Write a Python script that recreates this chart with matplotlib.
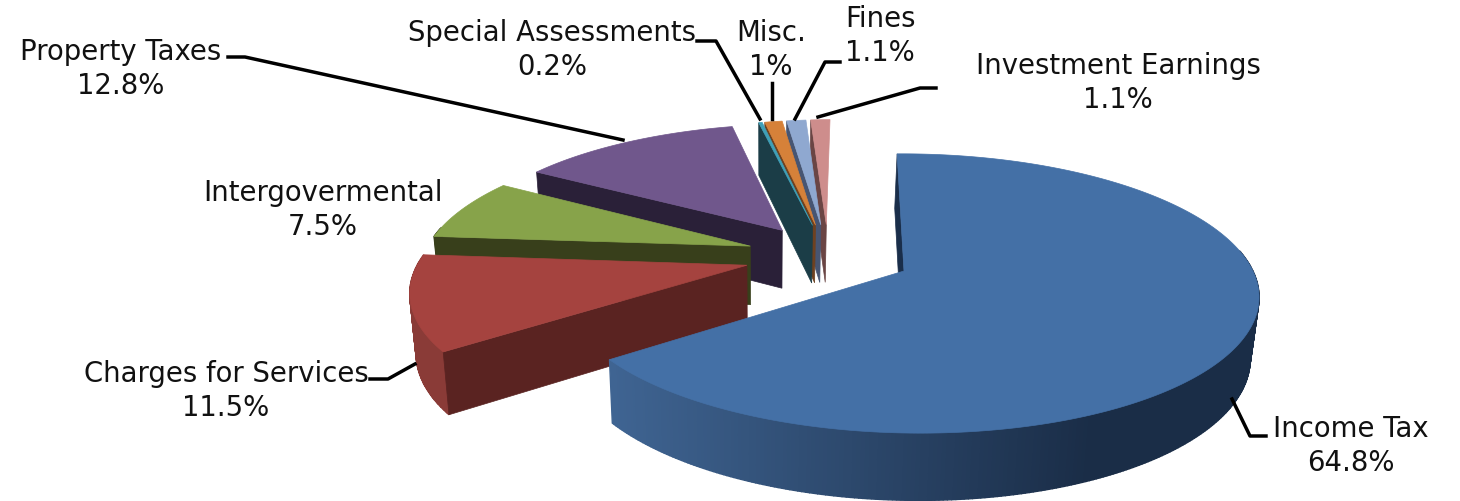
import numpy as np
import matplotlib
matplotlib.use('Agg')
import matplotlib.pyplot as plt

categories = ['Income Tax', 'Charges for Services', 'Intergovermental', 'Property Taxes',
              'Special Assessments', 'Misc.', 'Fines', 'Investment Earnings']
shares = [64.8, 11.5, 7.5, 12.8, 0.2, 1, 1.1, 1.1]

top_colors = ['#4470A6', '#A5433F', '#87A34A', '#70578C', '#3FA0B8', '#D68139', '#8FA8D0', '#CE8D8C']
wall_colors = ['#1A2E4A', '#5A2321', '#383F1B', '#2A2038', '#1B3D47', '#6E4120', '#475572', '#6A4544']
rim_colors = ['#2C4A6E', '#8A3B37', '#383F1B', '#2A2038', '#1B3D47', '#6E4120', '#475572', '#6A4544']

label_pos = [(1351, 446), (226, 391), (323, 210), (121, 69), (552, 50), (771, 50), (880, 36), (1118, 83)]
leaders = [
    [(1232, 400), (1250, 437), (1266, 437)],
    [(370, 380), (388, 380), (415, 365)],
    [],
    [(228, 58), (245, 58), (623, 141)],
    [(697, 42), (716, 42), (760, 120)],
    [(772, 84), (772, 120)],
    [(840, 63), (825, 63), (795, 120)],
    [(936, 89), (920, 89), (818, 118)],
]

explode = 0.25
cx, cy = 904, 272
rx, ry = 343, 136
persp_y, persp_x = 0.161, -0.017
shear = -8


def direction(angle):
    return np.sin(angle), np.cos(angle)


def project(px, py):
    w = 1 + persp_y * py + persp_x * px
    return cx + (rx * px + shear * py) / w, cy - ry * py / w, w


def drop(sx, sy, w):
    # bottom edge of the pie: shorter towards the back, leaning to the middle
    return sx - 2.5 + (cx - sx) * 0.018, sy + 60 / w ** 0.65


fig = plt.figure(figsize=(14.6, 5.02), dpi=100)
ax = fig.add_axes([0, 0, 1, 1])
ax.set_xlim(0, 1460)
ax.set_ylim(502, 0)
ax.axis('off')

edges = np.concatenate([[0], np.cumsum(shares)]) / sum(shares) * 2 * np.pi
mids = (edges[:-1] + edges[1:]) / 2
base_dir = direction(mids[0])

for i in range(len(shares) - 1, -1, -1):
    d = direction(mids[i])
    ox = explode * (d[0] - base_dir[0])
    oy = explode * (d[1] - base_dir[1])
    angles = np.linspace(edges[i], edges[i + 1], max(3, int(shares[i] * 6)))
    arc = [project(ox + np.sin(a), oy + np.cos(a)) for a in angles]
    apex = project(ox, oy)

    # outer rim, only the part facing the viewer
    for j in range(len(arc) - 1):
        if np.cos(angles[j]) > 0.15:
            continue
        a, b = arc[j], arc[j + 1]
        a2, b2 = drop(*a), drop(*b)
        color = rim_colors[i]
        if i == 0:
            t = np.clip((a[0] - 613) / 480, 0, 1)
            c1 = np.array(matplotlib.colors.to_rgb('#3F6492'))
            c2 = np.array(matplotlib.colors.to_rgb('#1A2D47'))
            color = c1 + (c2 - c1) * t
        ax.fill([a[0], b[0], b2[0], a2[0]], [a[1], b[1], b2[1], a2[1]],
                facecolor=color, edgecolor=color, linewidth=1.0)

    # wall along the first edge of the slice
    first = arc[0]
    first2 = drop(*first)
    apex2 = drop(*apex)
    ax.fill([first[0], apex[0], apex2[0], first2[0]], [first[1], apex[1], apex2[1], first2[1]],
            facecolor=wall_colors[i], edgecolor=wall_colors[i], linewidth=0.5)

    # top of the slice
    xs = [apex[0]] + [p[0] for p in arc]
    ys = [apex[1]] + [p[1] for p in arc]
    ax.fill(xs, ys, facecolor=top_colors[i], edgecolor=top_colors[i], linewidth=0.5)

for i, name in enumerate(categories):
    ax.text(label_pos[i][0], label_pos[i][1], f'{name}\n{shares[i]}%', ha='center', va='center',
            fontsize=19.8, color='#111111', family='DejaVu Sans', linespacing=1.3)
    if leaders[i]:
        ax.plot([p[0] for p in leaders[i]], [p[1] for p in leaders[i]], color='black', linewidth=2.5)

fig.savefig('out.png', dpi=100, facecolor='white')
